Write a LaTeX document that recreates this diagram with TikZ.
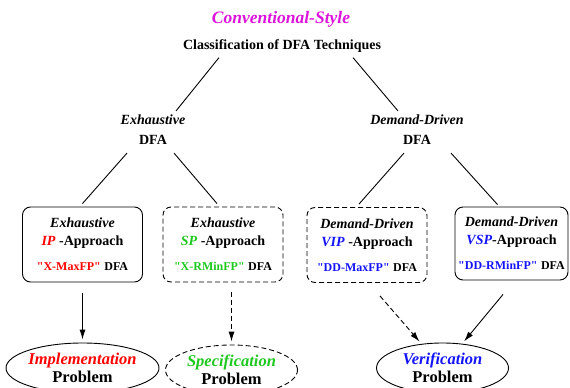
\documentclass[tikz,border=0pt]{standalone}
\usepackage{fontspec}
\setmainfont{Liberation Serif}[Ligatures=TeXOff]
\usepackage{xcolor}
\usetikzlibrary{positioning, shapes.geometric, arrows.meta}

\definecolor{stylemag}{RGB}{220,20,220}
\definecolor{ipred}{RGB}{255,0,0}
\definecolor{spgreen}{RGB}{30,200,30}
\definecolor{vblue}{RGB}{20,20,255}

\tikzset{
  lbl/.style={font=\bfseries\fontsize{14}{20}\selectfont, align=center, inner sep=0pt},
  apbox/.style={draw, rounded corners=8pt, line width=0.9pt, minimum width=120pt, minimum height=75pt,
    align=center, inner sep=0pt, font=\bfseries\fontsize{14}{18}\selectfont},
  prob/.style={draw, ellipse, line width=0.9pt, minimum width=132pt, minimum height=50pt,
    inner sep=0pt, align=center, font=\bfseries\fontsize{16.5}{18}\selectfont},
  dsh/.style={dash pattern=on 5pt off 3pt},
  arr/.style={-{Latex[length=10pt,width=6pt]}, line width=0.9pt, shorten >=3pt},
  edge/.style={line width=0.9pt},
}
\newcommand{\smalltag}[2]{{\fontsize{12}{14}\selectfont\color{#1}"#2"}~{\fontsize{12}{14}\selectfont DFA}}

\begin{document}
\begin{tikzpicture}[x=1pt, y=-1pt]
    \useasboundingbox (0,0) rectangle (570,388);

    % heading
    \node[lbl, font=\bfseries\itshape\fontsize{17.5}{20}\selectfont, text=stylemag] (style) at (281,19) {Conventional-Style};
    \node[lbl] (title) at (282,46) {Classification of DFA Techniques};

    % two families
    \node[lbl] (exh) at (153,130) {\textit{Exhaustive}\\DFA};
    \node[lbl] (dd) at (417,130) {\textit{Demand-Driven}\\DFA};

    \draw[edge] ([xshift=-63pt,yshift=-5pt]title.south) -- ([xshift=23pt,yshift=4pt]exh.north);
    \draw[edge] ([xshift=71pt,yshift=-5pt]title.south) -- ([xshift=-19pt,yshift=4pt]dd.north);

    % approaches
    \node[apbox] (b1) at (82.5,244.5) {\textit{Exhaustive}\\\textcolor{ipred}{\textit{IP}} -Approach\\[7pt]\smalltag{ipred}{X-MaxFP}};
    \node[apbox, dsh] (b2) at (223,244.5) {\textit{Exhaustive}\\\textcolor{spgreen}{\textit{SP}} -Approach\\[7pt]\smalltag{spgreen}{X-RMinFP}};
    \node[apbox, dsh] (b3) at (367,245) {\textit{Demand-Driven}\\\textcolor{vblue}{\textit{VIP}} -Approach\\[7pt]\smalltag{vblue}{DD-MaxFP}};
    \node[apbox, minimum width=113pt, minimum height=73pt] (b4) at (511.5,243.5) {\textit{Demand-Driven}\\\textcolor{vblue}{\textit{VSP}}-Approach\\[7pt]\smalltag{vblue}{DD-RMinFP}};

    \draw[edge] ([xshift=-26pt,yshift=-8pt]exh.south) -- ([yshift=3pt]b1.north);
    \draw[edge] ([xshift=21pt,yshift=-8pt]exh.south) -- ([xshift=-6pt,yshift=3pt]b2.north);
    \draw[edge] ([xshift=-13pt,yshift=-8pt]dd.south) -- ([xshift=-8pt,yshift=3pt]b3.north);
    \draw[edge] ([xshift=34pt,yshift=-8pt]dd.south) -- ([xshift=-14pt,yshift=2pt]b4.north);

    % problems
    \node[prob] (e1) at (82.5,368) {\textcolor{ipred}{\textit{Implementation}}\\Problem};
    \node[prob, dsh] (e2) at (231.5,370) {\textcolor{spgreen}{\textit{Specification}}\\Problem};
    \node[prob] (e3) at (442.5,368) {\textcolor{vblue}{\textit{Verification}}\\Problem};

    \draw[arr] ([yshift=-11pt]b1.south) -- (e1.north);
    \draw[arr, dsh] ([xshift=8.5pt,yshift=-10pt]b2.south) -- (e2.north);
    \draw[arr, dsh] ([xshift=13pt,yshift=-13pt]b3.south) -- (e3.131);
    \draw[arr] ([xshift=-8.5pt,yshift=-14pt]b4.south) -- (e3.51);
\end{tikzpicture}
\end{document}
